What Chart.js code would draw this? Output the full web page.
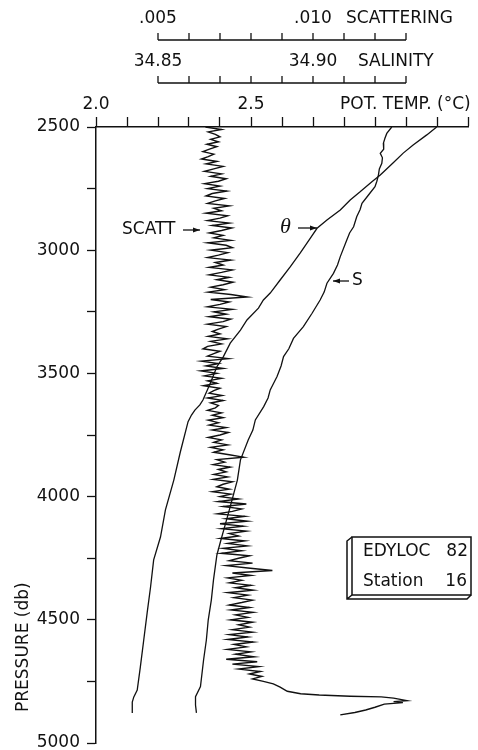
<!DOCTYPE html>
<html>
<head>
<meta charset="utf-8">
<script src="https://cdn.jsdelivr.net/npm/chart.js@4.4.1/dist/chart.umd.min.js"></script>
<style>
  html, body { margin: 0; padding: 0; background: #fff; }
  #wrap { width: 478px; height: 750px; }
</style>
</head>
<body>
<div id="wrap"><canvas id="profile"></canvas></div>
<script>
// potential temperature (deg C) against pressure (db)
const thetaPressure = [2500, 2532, 2573, 2606, 2646, 2695, 2722, 2763, 2796, 2837, 2877, 2911, 2952, 3011, 3067,
  3121, 3174, 3202, 3235, 3283, 3324, 3377, 3432, 3473, 3539, 3608, 3628, 3649, 3669, 3696, 3819, 3933, 4054,
  4164, 4257, 4367, 4472, 4582, 4692, 4785, 4813, 4834, 4878];
const thetaValues = [3.099, 3.067, 3.023, 2.991, 2.958, 2.917, 2.890, 2.852, 2.820, 2.788, 2.745, 2.713, 2.691, 2.659, 2.627,
  2.594, 2.562, 2.540, 2.524, 2.487, 2.466, 2.433, 2.411, 2.390, 2.369, 2.345, 2.335, 2.319, 2.308, 2.297, 2.272, 2.251, 2.224,
  2.208, 2.186, 2.176, 2.165, 2.154, 2.143, 2.133, 2.122, 2.117, 2.117];

// salinity
const salinityPressure = [2500, 2526, 2546, 2566, 2590, 2607, 2625, 2647, 2670, 2695, 2720, 2742, 2776, 2810, 2835,
  2864, 2905, 2930, 2959, 3026, 3060, 3094, 3134, 3170, 3202, 3256, 3310, 3358, 3400, 3432, 3470, 3513, 3567,
  3600, 3635, 3689, 3730, 3770, 3851, 3933, 3994, 4041, 4127, 4176, 4237, 4338, 4420, 4501, 4582, 4663, 4771,
  4812, 4846, 4878];
const salinityValues = [34.9254, 34.9238, 34.9232, 34.9227, 34.9228, 34.9217, 34.9224, 34.9222, 34.9214, 34.9211,
  34.9206, 34.9200, 34.9179, 34.9158, 34.9152, 34.9141, 34.9131, 34.9118, 34.9109, 34.9088, 34.9079, 34.9066,
  34.9045, 34.9036, 34.9023, 34.8997, 34.8969, 34.8937, 34.8922, 34.8905, 34.8897, 34.8884, 34.8862, 34.8855,
  34.8841, 34.8814, 34.8806, 34.8791, 34.8766, 34.8756, 34.8743, 34.8733, 34.8714, 34.8703, 34.8690, 34.8679,
  34.8672, 34.8662, 34.8656, 34.8647, 34.8637, 34.8621, 34.8621, 34.8624];

// light scattering, in units of 1e-3
const scattPressure = [
  2500, 2510, 2520, 2530, 2540, 2550, 2560, 2570, 2580, 2590,
  2600, 2610, 2620, 2630, 2640, 2650, 2660, 2670, 2680, 2690,
  2700, 2710, 2720, 2730, 2740, 2750, 2760, 2770, 2780, 2790,
  2800, 2810, 2820, 2830, 2840, 2850, 2860, 2870, 2880, 2890,
  2900, 2910, 2920, 2930, 2940, 2950, 2960, 2970, 2980, 2990,
  3000, 3010, 3020, 3030, 3040, 3050, 3060, 3070, 3080, 3090,
  3100, 3110, 3120, 3130, 3140, 3150, 3160, 3170, 3180, 3190,
  3200, 3210, 3220, 3230, 3240, 3250, 3260, 3270, 3280, 3290,
  3300, 3310, 3320, 3330, 3340, 3350, 3360, 3370, 3380, 3390,
  3400, 3410, 3420, 3430, 3440, 3450, 3460, 3470, 3480, 3490,
  3500, 3510, 3520, 3530, 3540, 3550, 3560, 3570, 3580, 3590,
  3600, 3610, 3620, 3630, 3640, 3650, 3660, 3670, 3680, 3690,
  3700, 3710, 3720, 3730, 3740, 3750, 3760, 3770, 3780, 3790,
  3800, 3810, 3820, 3830, 3840, 3850, 3860, 3870, 3880, 3890,
  3900, 3910, 3920, 3930, 3940, 3950, 3960, 3970, 3980, 3990,
  4000, 4010, 4020, 4030, 4040, 4050, 4060, 4070, 4080, 4090,
  4100, 4110, 4120, 4130, 4140, 4150, 4160, 4170, 4180, 4190,
  4200, 4210, 4220, 4230, 4240, 4250, 4260, 4270, 4280, 4290,
  4300, 4310, 4320, 4330, 4340, 4350, 4360, 4370, 4380, 4390,
  4400, 4410, 4420, 4430, 4440, 4450, 4460, 4470, 4480, 4490,
  4500, 4510, 4520, 4530, 4540, 4550, 4560, 4570, 4580, 4590,
  4600, 4610, 4620, 4630, 4640, 4650, 4660, 4670, 4680, 4690,
  4700, 4710, 4720, 4730, 4740, 4750,
  4760, 4773, 4790, 4800, 4805, 4810, 4813, 4818, 4828, 4832, 4836, 4842, 4855, 4866, 4876, 4886];
const scattValues = [
  6.53, 7.05, 6.62, 6.85, 7.00, 6.70, 6.95, 6.58, 6.90, 6.66,
  6.45, 6.80, 6.62, 6.40, 6.90, 6.55, 7.10, 6.80, 6.50, 7.05,
  6.70, 7.20, 6.95, 6.50, 7.00, 6.60, 7.22, 6.75, 6.55, 7.15,
  6.85, 6.60, 7.30, 6.80, 7.05, 6.55, 7.25, 7.00, 6.60, 7.30,
  6.75, 7.38, 7.05, 6.65, 7.10, 6.80, 7.35, 6.60, 7.20, 7.40,
  6.70, 7.25, 6.95, 6.60, 7.35, 6.85, 7.10, 6.65, 7.40, 7.05,
  6.65, 7.30, 6.90, 7.42, 7.10, 6.70, 7.15, 6.62, 7.35, 7.88,
  6.70, 7.30, 7.00, 6.60, 7.40, 6.80, 7.20, 6.65, 7.35, 7.10,
  6.60, 7.20, 6.95, 6.75, 7.00, 6.62, 7.24, 6.70, 7.05, 6.60,
  6.45, 7.00, 6.80, 6.60, 7.27, 6.40, 6.95, 6.55, 7.10, 6.38,
  6.90, 6.50, 7.05, 6.60, 6.90, 6.47, 7.00, 6.80, 6.65, 7.07,
  6.60, 7.10, 6.70, 6.95, 6.85, 6.60, 7.05, 6.75, 7.10, 6.62,
  6.95, 6.65, 7.20, 6.75, 7.27, 7.00, 6.62, 7.05, 6.80, 7.25,
  6.70, 7.10, 6.80, 7.30, 7.76, 6.90, 7.15, 6.78, 7.33, 6.95,
  7.20, 6.80, 7.25, 6.78, 7.40, 7.10, 6.90, 7.30, 6.76, 7.35,
  7.00, 7.60, 6.95, 7.85, 7.10, 7.70, 7.40, 6.92, 7.80, 7.20,
  7.88, 7.00, 7.75, 7.05, 7.85, 7.30, 7.60, 7.02, 7.80, 7.25,
  7.88, 7.10, 7.70, 7.05, 7.95, 7.60, 7.30, 8.05, 7.20, 7.90,
  8.69, 7.40, 8.00, 7.25, 7.70, 7.30, 8.00, 7.50, 8.07, 7.25,
  7.90, 7.45, 8.05, 7.70, 7.30, 7.95, 7.35, 8.07, 7.50, 7.90,
  7.34, 8.05, 7.60, 7.95, 7.40, 8.05, 7.30, 7.90, 7.25, 8.07,
  7.45, 7.85, 7.24, 8.00, 7.50, 8.10, 7.20, 8.20, 7.40, 8.25,
  7.60, 8.30, 7.95, 8.35, 8.05, 8.40,
  8.72, 8.94, 9.17, 9.60, 10.20, 11.20, 12.20, 12.60, 13.03, 12.60, 12.90, 12.30, 12.00, 11.70, 11.35, 10.88];

// axis ticks
const tempLabelValues = [2.0, 2.5];
const salinityTicks = [34.85, 34.86, 34.87, 34.88, 34.89, 34.90, 34.91, 34.92, 34.93];
const salinityLabelValues = [34.85, 34.90];
const scattTicks = [5, 6, 7, 8, 9, 10, 11, 12, 13];
const scattLabelValues = [5, 10];

const INK = '#111';
const FONT = '"DejaVu Sans", sans-serif';
Chart.defaults.font.family = FONT;
Chart.defaults.font.size = 17;
Chart.defaults.color = INK;

const toPoints = (vals, pres) => vals.map((v, i) => ({ x: v, y: pres[i] }));

function partialAxis(ctx, scale, ticks, labels, fmt, lineY, labelY, title, titleX) {
  const x0 = scale.getPixelForValue(ticks[0]);
  const x1 = scale.getPixelForValue(ticks[ticks.length - 1]);
  ctx.beginPath();
  ctx.moveTo(x0, lineY);
  ctx.lineTo(x1, lineY);
  ticks.forEach(v => {
    const px = scale.getPixelForValue(v);
    ctx.moveTo(px, lineY);
    ctx.lineTo(px, lineY - 7);
  });
  ctx.stroke();
  ctx.textAlign = 'center';
  ctx.textBaseline = 'middle';
  labels.forEach(v => ctx.fillText(fmt(v), scale.getPixelForValue(v), labelY));
  ctx.textAlign = 'left';
  ctx.fillText(title, titleX, labelY);
}

function arrow(ctx, x0, x1, y) {
  ctx.beginPath();
  ctx.moveTo(x0, y);
  ctx.lineTo(x1, y);
  ctx.stroke();
  const d = x1 > x0 ? -1 : 1;
  ctx.beginPath();
  ctx.moveTo(x1, y);
  ctx.lineTo(x1 + d * 7, y - 2.5);
  ctx.lineTo(x1 + d * 7, y + 2.5);
  ctx.closePath();
  ctx.fill();
}

const annotations = {
  id: 'annotations',
  afterDraw(chart) {
    const ctx = chart.ctx;
    ctx.save();
    ctx.strokeStyle = INK;
    ctx.fillStyle = INK;
    ctx.lineWidth = 1.3;
    ctx.font = '17px ' + FONT;

    // extra top axes
    partialAxis(ctx, chart.scales.xScat, scattTicks, scattLabelValues,
      v => '.' + String(v).padStart(3, '0'), 40, 19, 'SCATTERING', 346);
    partialAxis(ctx, chart.scales.xSal, salinityTicks, salinityLabelValues,
      v => v.toFixed(2), 83, 62, 'SALINITY', 358);

    ctx.textAlign = 'left';
    ctx.textBaseline = 'middle';
    ctx.fillText('POT. TEMP. (°C)', 340, 105);

    // pressure title
    ctx.save();
    ctx.translate(24, 712);
    ctx.rotate(-Math.PI / 2);
    ctx.fillText('PRESSURE (db)', 0, 0);
    ctx.restore();

    // curve labels
    ctx.fillText('SCATT', 122, 230);
    arrow(ctx, 183, 200, 230);
    ctx.font = 'italic 22px "Liberation Serif", serif';
    ctx.fillText('θ', 280, 227);
    arrow(ctx, 298, 317, 228);
    ctx.font = '17px ' + FONT;
    arrow(ctx, 349, 333, 281);
    ctx.fillText('S', 352, 281);

    // station box
    ctx.lineWidth = 1.5;
    ctx.strokeRect(352, 537, 119, 58);
    ctx.beginPath();
    ctx.moveTo(352, 537);
    ctx.lineTo(347, 541);
    ctx.lineTo(347, 599);
    ctx.lineTo(467, 599);
    ctx.lineTo(471, 595);
    ctx.moveTo(347, 599);
    ctx.lineTo(352, 595);
    ctx.stroke();
    ctx.textAlign = 'left';
    ctx.fillText('EDYLOC', 363, 552);
    ctx.fillText('Station', 363, 582);
    ctx.textAlign = 'right';
    ctx.fillText('82', 468, 552);
    ctx.fillText('16', 467, 582);
    ctx.restore();
  }
};

const lineStyle = { showLine: true, pointRadius: 0, borderColor: INK, borderWidth: 1.3, fill: false, tension: 0 };

new Chart(document.getElementById('profile'), {
  type: 'scatter',
  data: {
    datasets: [
      { label: 'θ', data: toPoints(thetaValues, thetaPressure), xAxisID: 'x', yAxisID: 'y', ...lineStyle },
      { label: 'S', data: toPoints(salinityValues, salinityPressure), xAxisID: 'xSal', yAxisID: 'y', ...lineStyle },
      { label: 'SCATT', data: toPoints(scattValues, scattPressure), xAxisID: 'xScat', yAxisID: 'y', ...lineStyle, borderWidth: 1.4 }
    ]
  },
  options: {
    responsive: true,
    maintainAspectRatio: false,
    animation: false,
    layout: { padding: { top: 0, left: 0, right: 10, bottom: 7 } },
    plugins: { legend: { display: false }, tooltip: { enabled: false } },
    scales: {
      x: {
        type: 'linear', position: 'top', min: 2.0, max: 3.2,
        afterFit: s => { s.height = 127; s.paddingLeft = 0; s.paddingRight = 0; },
        border: { display: true, color: INK, width: 1.5 },
        grid: { drawOnChartArea: false, drawTicks: true, tickLength: 10, color: INK, tickWidth: 1.3 },
        ticks: {
          stepSize: 0.1, autoSkip: false, maxRotation: 0, padding: 2, color: INK,
          callback: v => {
            const hit = tempLabelValues.find(t => Math.abs(t - v) < 1e-6);
            return hit === undefined ? '' : hit.toFixed(1);
          }
        }
      },
      xSal: { type: 'linear', axis: 'x', position: 'top', display: false, min: 34.83, max: 34.95 },
      xScat: { type: 'linear', axis: 'x', position: 'top', display: false, min: 3, max: 15 },
      y: {
        type: 'linear', position: 'left', reverse: true, min: 2500, max: 5000,
        afterFit: s => { s.width = 96; s.paddingTop = 0; s.paddingBottom = 0; },
        border: { display: true, color: INK, width: 1.5 },
        grid: { drawOnChartArea: false, drawTicks: true, tickLength: 9, color: INK, tickWidth: 1.3 },
        ticks: {
          stepSize: 250, autoSkip: false, padding: 7, color: INK,
          callback: v => (v % 500 === 0 ? String(v) : '')
        }
      }
    }
  },
  plugins: [annotations]
});
</script>
</body>
</html>
